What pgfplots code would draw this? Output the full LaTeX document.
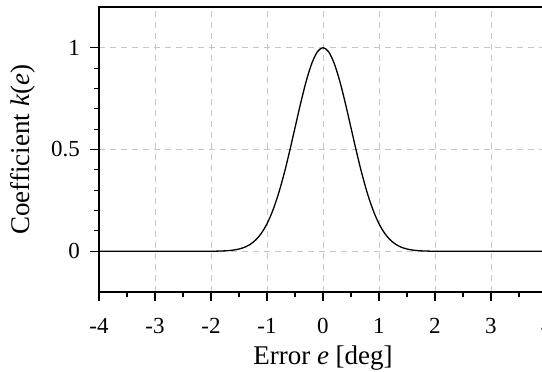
\documentclass[border=0pt]{standalone}
\usepackage{pgfplots}
\pgfplotsset{compat=1.18}
\usepackage{fontspec}
\setmainfont{Liberation Serif}
\begin{document}
\begin{tikzpicture}[x=1pt,y=1pt]
\begin{axis}[
  at={(0,0)}, anchor=south west,
  scale only axis,
  width=448pt, height=285pt,
  xmin=-4, xmax=4, ymin=-0.2, ymax=1.2,
  xtick={-4,-3,-2,-1,0,1,2,3,4},
  xticklabels={-4,-3,-2,-1,0,1,2,3,4},
  ytick={0,0.5,1},
  yticklabels={0,0.5,1},
  minor x tick num=1,
  minor y tick num=4,
  tick pos=left,
  tick align=outside,
  major tick length=9pt,
  minor tick length=5pt,
  every tick/.style={black, line width=1.1pt},
  axis line style={black, line width=1.2pt},
  grid=major,
  major grid style={dashed, gray!45, line width=0.8pt, dash pattern=on 6pt off 5pt},
  xticklabel style={font=\fontsize{23}{26}\selectfont, anchor=base, yshift=-33pt, inner sep=0pt},
  yticklabel style={font=\fontsize{23}{26}\selectfont, anchor=east, xshift=-10pt, inner sep=0pt},
  xlabel={Error \textit{e} [deg]},
  ylabel={Coefficient \textit{k}(\textit{e})},
  xlabel style={font=\fontsize{27}{30}\selectfont, at={(axis description cs:0.5,0)}, anchor=base, yshift=-73pt, inner sep=0pt},
  ylabel style={font=\fontsize{27}{30}\selectfont, at={(axis description cs:0,0.5)}, anchor=north, yshift=89pt, inner sep=0pt},
  clip=false,
]
\addplot[black, line width=1.3pt, smooth] coordinates {
(-4,0) (-3,0) (-2.5,0) (-2.0,0.0003) (-1.9,0.0007) (-1.8,0.0015) (-1.7,0.0031) (-1.6,0.0060)
(-1.5,0.0111) (-1.4,0.0198) (-1.3,0.0340) (-1.2,0.0561) (-1.1,0.0889) (-1.0,0.1353)
(-0.9,0.1979) (-0.8,0.2780) (-0.7,0.3753) (-0.6,0.4868) (-0.5,0.6065) (-0.4,0.7261)
(-0.3,0.8353) (-0.2,0.9231) (-0.1,0.9802) (0,1)
(0.1,0.9802) (0.2,0.9231) (0.3,0.8353) (0.4,0.7261) (0.5,0.6065) (0.6,0.4868)
(0.7,0.3753) (0.8,0.2780) (0.9,0.1979) (1.0,0.1353) (1.1,0.0889) (1.2,0.0561)
(1.3,0.0340) (1.4,0.0198) (1.5,0.0111) (1.6,0.0060) (1.7,0.0031) (1.8,0.0015)
(1.9,0.0007) (2.0,0.0003) (2.5,0) (3,0) (4,0)
};
\end{axis}
\pgfresetboundingbox
\path[use as bounding box] (-99pt,-80pt) rectangle (443pt,292pt);
\end{tikzpicture}
\end{document}
